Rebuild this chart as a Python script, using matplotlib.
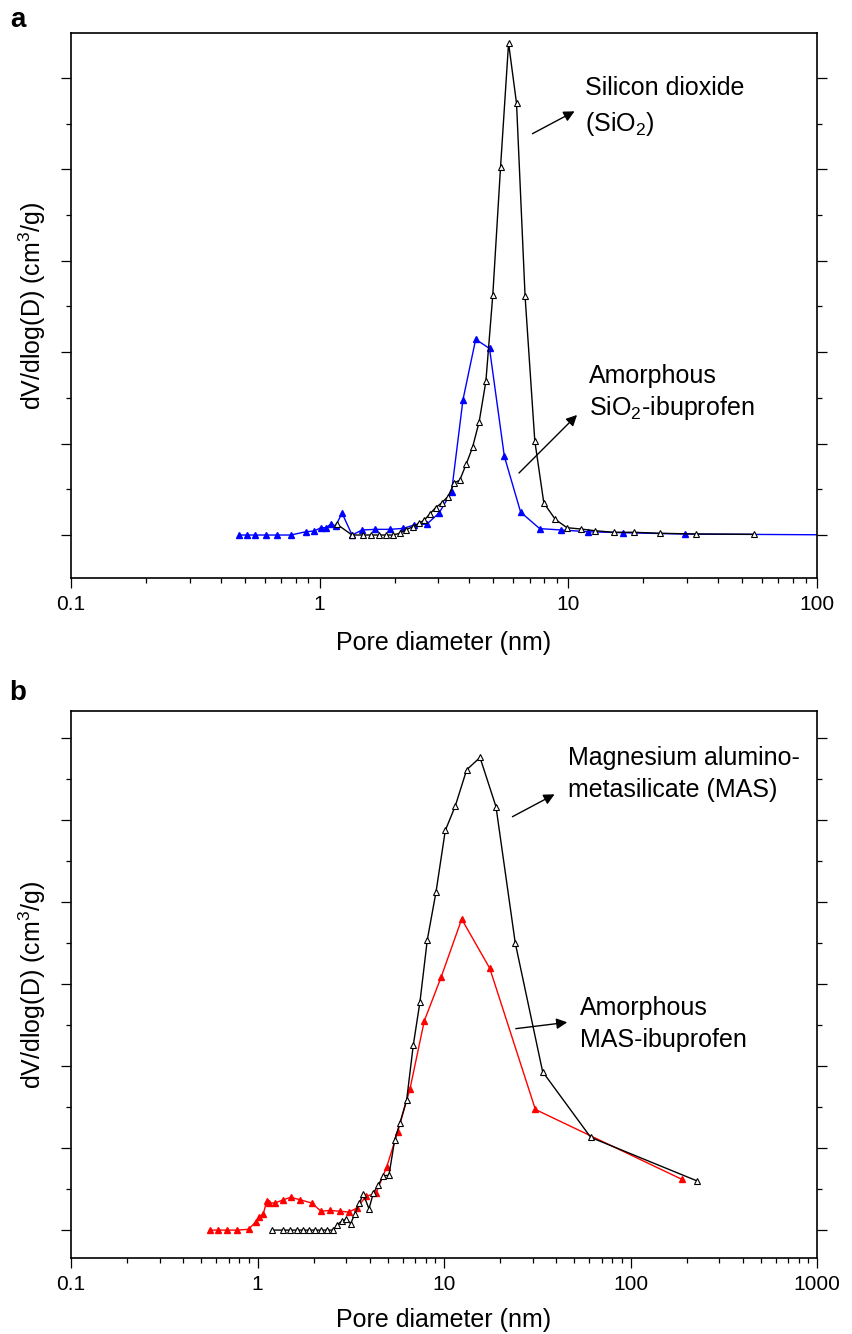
import numpy as np
import matplotlib
matplotlib.use("Agg")
import matplotlib.pyplot as plt
from matplotlib.patches import FancyArrowPatch
from matplotlib.ticker import FixedLocator, NullFormatter, FuncFormatter, LogLocator

plt.rcParams['font.family'] = ['Liberation Sans', 'DejaVu Sans']
plt.rcParams['mathtext.default'] = 'regular'

# Panel a: silicon dioxide (pore diameter in nm, dV/dlog(D) in arbitrary units)
sio2_d = [1.17, 1.35, 1.49, 1.61, 1.74, 1.85, 1.97, 2.10, 2.23, 2.37, 2.50, 2.63,
          2.77, 2.93, 3.09, 3.28, 3.48, 3.66, 3.89, 4.12, 4.38, 4.66, 4.97, 5.34,
          5.75, 6.19, 6.70, 7.33, 7.97, 8.87, 9.88, 11.2, 12.8, 15.2, 18.4, 23.4,
          32.6, 56.0]
sio2_v = [0.12, 0.0, 0.0, 0.0, 0.0, 0.0, 0.0, 0.02, 0.06, 0.09, 0.13, 0.16,
          0.23, 0.30, 0.35, 0.42, 0.57, 0.60, 0.78, 0.96, 1.24, 1.68, 2.63, 4.03,
          5.38, 4.72, 2.61, 1.03, 0.35, 0.17, 0.08, 0.066, 0.047, 0.03, 0.03, 0.019,
          0.011, 0.008]

sio2_ibu_d = [0.473, 0.510, 0.551, 0.610, 0.676, 0.767, 0.879, 0.952, 1.01, 1.06,
              1.11, 1.16, 1.23, 1.35, 1.48, 1.67, 1.92, 2.17, 2.40, 2.70, 3.02,
              3.39, 3.77, 4.24, 4.82, 5.53, 6.43, 7.67, 9.38, 12.0, 16.6, 29.5, 150.0]
sio2_ibu_v = [0.0, 0.0, 0.0, 0.0, 0.0, 0.0, 0.036, 0.044, 0.08, 0.08,
              0.12, 0.10, 0.24, 0.0, 0.055, 0.062, 0.062, 0.073, 0.11, 0.12, 0.24,
              0.47, 1.48, 2.14, 2.04, 0.86, 0.25, 0.07, 0.055, 0.036, 0.025, 0.011, 0.0]

# Panel b: magnesium aluminometasilicate
mas_d = [1.19, 1.365, 1.494, 1.623, 1.761, 1.896, 2.04, 2.198, 2.368, 2.55, 2.66,
         2.83, 2.98, 3.16, 3.33, 3.52, 3.69, 3.96, 4.18, 4.44, 4.73, 5.07, 5.44,
         5.81, 6.31, 6.84, 7.43, 8.14, 9.06, 10.16, 11.5, 13.23, 15.6, 19.0, 24.1,
         33.8, 61.2, 227.0]
mas_v = [0.0, 0.0, 0.0, 0.0, 0.0, 0.0, 0.0, 0.0, 0.0, 0.0, 0.06,
         0.11, 0.13, 0.08, 0.20, 0.33, 0.44, 0.26, 0.45, 0.55, 0.66, 0.67, 1.10,
         1.31, 1.59, 2.25, 2.78, 3.54, 4.12, 4.87, 5.17, 5.61, 5.76, 5.16, 3.50,
         1.93, 1.13, 0.60]

mas_ibu_d = [0.556, 0.616, 0.684, 0.774, 0.897, 0.978, 1.019, 1.074, 1.12, 1.157,
             1.241, 1.375, 1.507, 1.69, 1.953, 2.19, 2.457, 2.76, 3.08, 3.43, 3.80,
             4.32, 4.93, 5.65, 6.57, 7.84, 9.64, 12.44, 17.6, 30.9, 188.0]
mas_ibu_v = [0.0, 0.0, 0.0, 0.0, 0.01, 0.10, 0.16, 0.20, 0.35, 0.33,
             0.33, 0.37, 0.40, 0.37, 0.33, 0.23, 0.24, 0.23, 0.22, 0.27, 0.41,
             0.45, 0.77, 1.20, 1.72, 2.55, 3.08, 3.79, 3.19, 1.47, 0.62]

W, H = 852, 1334
fig = plt.figure(figsize=(W / 100, H / 100), dpi=100)


def px(x, y):
    # reference pixel -> figure fraction
    return (x / W, 1 - y / H)


def make_axes(top, bottom, xmax, ylim):
    ax = fig.add_axes([71 / W, 1 - bottom / H, (817 - 71) / W, (bottom - top) / H])
    ax.set_xscale('log')
    ax.set_xlim(0.1, xmax)
    ax.set_ylim(*ylim)
    ax.xaxis.set_major_locator(LogLocator(base=10, numticks=10))
    ax.xaxis.set_minor_locator(LogLocator(base=10, subs=np.arange(2, 10), numticks=20))
    ax.xaxis.set_major_formatter(FuncFormatter(lambda v, p: '%g' % v))
    ax.xaxis.set_minor_formatter(NullFormatter())
    ax.yaxis.set_major_locator(FixedLocator(np.arange(0, 7, 1.0)))
    ax.yaxis.set_minor_locator(FixedLocator(np.arange(0.5, 7, 1.0)))
    ax.yaxis.set_major_formatter(NullFormatter())
    ax.tick_params(which='major', direction='out', length=7, width=0.9, labelsize=15, pad=5)
    ax.tick_params(which='minor', direction='out', length=3.6, width=0.9)
    ax.tick_params(axis='y', which='both', right=True)
    for s in ax.spines.values():
        s.set_linewidth(1.2)
    ax.set_xlabel('Pore diameter (nm)', fontsize=18)
    ax.set_ylabel('dV/dlog(D) (cm$^3$/g)', fontsize=18)
    ax.yaxis.set_label_coords(-0.031, 0.5)
    return ax


open_tri = dict(marker='^', ms=4.5, mfc='white', mec='black', mew=0.8, lw=1.0, color='black')
arrow = dict(arrowstyle='-|>', color='black', lw=1.0, mutation_scale=16)


def add_arrow(p0, p1):
    fig.add_artist(FancyArrowPatch(px(*p0), px(*p1), transform=fig.transFigure, **arrow))


# ---- panel a ----
ax1 = make_axes(33, 578, 100, (-0.47, 5.49))
ax1.plot(sio2_ibu_d, sio2_ibu_v, color='#0000ff', marker='^', ms=4.8, lw=1.0, zorder=2)
ax1.plot(sio2_d, sio2_v, zorder=3, **open_tri)
ax1.xaxis.set_label_coords(0.5, -0.097)

fig.text(*px(585, 88), 'Silicon dioxide', fontsize=18, va='center', ha='left')
fig.text(*px(585, 124), '(SiO$_2$)', fontsize=18, va='center', ha='left')
fig.text(*px(589, 376), 'Amorphous', fontsize=18, va='center', ha='left')
fig.text(*px(589, 408), 'SiO$_2$-ibuprofen', fontsize=18, va='center', ha='left')
add_arrow((530, 135), (577, 110))
add_arrow((517, 475), (579, 413))
fig.text(*px(18, 20), 'a', fontsize=20, fontweight='bold', va='center', ha='center')

# ---- panel b ----
ax2 = make_axes(710.7, 1258, 1000, (-0.34, 6.33))
ax2.plot(mas_ibu_d, mas_ibu_v, color='#ff0000', marker='^', ms=4.8, lw=1.0, zorder=2)
ax2.plot(mas_d, mas_v, zorder=3, **open_tri)
ax2.xaxis.set_label_coords(0.5, -0.091)

fig.text(*px(568, 758), 'Magnesium alumino-', fontsize=18, va='center', ha='left')
fig.text(*px(568, 790), 'metasilicate (MAS)', fontsize=18, va='center', ha='left')
fig.text(*px(580, 1008), 'Amorphous', fontsize=18, va='center', ha='left')
fig.text(*px(580, 1040), 'MAS-ibuprofen', fontsize=18, va='center', ha='left')
add_arrow((510, 818), (557, 793))
add_arrow((513, 1029), (570, 1022))
fig.text(*px(18, 693), 'b', fontsize=20, fontweight='bold', va='center', ha='center')

fig.savefig('out.png', dpi=100)
